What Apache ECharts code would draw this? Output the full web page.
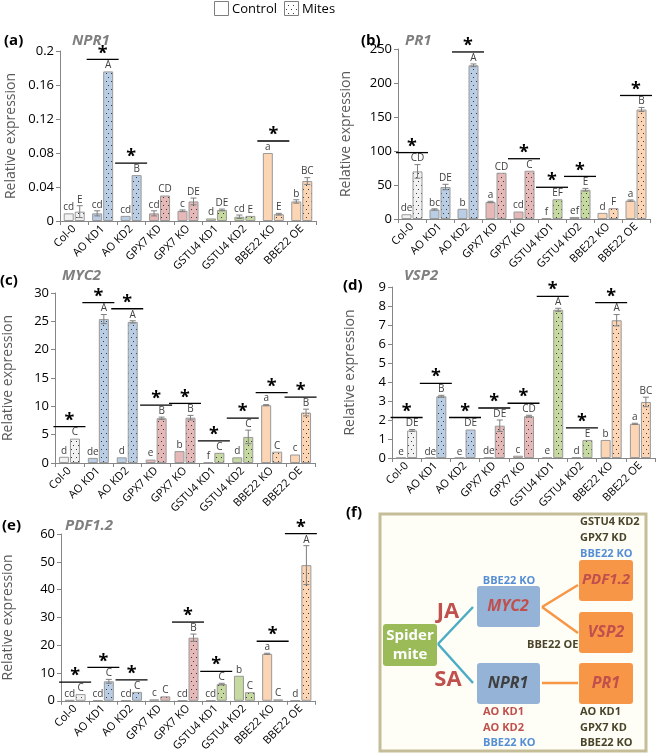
<!DOCTYPE html>
<html><head><meta charset="utf-8">
<script src="https://cdn.jsdelivr.net/npm/echarts@6/dist/echarts.min.js"></script>
<style>html,body{margin:0;padding:0;background:#fff}#c{width:659px;height:754px}</style>
</head><body><div id="c"></div>
<script>
const categories = ['Col-0','AO KD1','AO KD2','GPX7 KD','GPX7 KO','GSTU4 KD1','GSTU4 KD2','BBE22 KO','BBE22 OE'];
const groupColors = ['#f2f2f2','#b9cde5','#b9cde5','#e6b9b8','#e6b9b8','#c6d9a0','#c6d9a0','#fcd5b5','#fcd5b5'];

// (a) NPR1
const npr1Control = [0.009,0.009,0.006,0.009,0.012,0.003,0.005,0.080,0.023];
const npr1ControlErr = [0,0.003,0,0.003,0.001,0,0.002,0,0.002];
const npr1Mites = [0.011,0.176,0.054,0.030,0.023,0.013,0.006,0.008,0.047];
const npr1MitesErr = [0.007,0,0,0,0.004,0.001,0,0.001,0.004];
const npr1ControlLetters = ['cd','cd','cd','cd','c','d','cd','a','b'];
const npr1MitesLetters = ['E','A','B','CD','DE','DE','E','E','BC'];
const npr1Sig = [0,1,1,0,0,0,0,1,0];
const npr1Ticks = {max:0.2, interval:0.04};

// (b) PR1
const pr1Control = [7,14,15,25,11,1,3,9,27];
const pr1ControlErr = [0,1,0,1,0,0,0,0,1];
const pr1Mites = [70,47,226,68,71,29,43,16,161];
const pr1MitesErr = [10,4,2,0,0,0,2,0,3];
const pr1ControlLetters = ['de','bc','b','a','cd','f','ef','d','a'];
const pr1MitesLetters = ['CD','DE','A','CD','C','EF','E','F','B'];
const pr1Sig = [1,0,1,0,1,1,1,0,1];
const pr1Ticks = {max:250, interval:50};

// (c) MYC2
const myc2Control = [1.1,0.9,1.0,0.6,2.1,0.1,1.0,10.2,1.5];
const myc2ControlErr = [0,0,0,0,0,0,0,0.1,0];
const myc2Mites = [4.3,25.4,24.9,7.9,8.0,1.8,4.6,2.0,8.9];
const myc2MitesErr = [0,0.8,0.2,0.2,0.4,0,1.2,0,0.6];
const myc2ControlLetters = ['d','de','d','e','b','f','d','a','c'];
const myc2MitesLetters = ['C','A','A','B','B','C','C','C','B'];
const myc2Sig = [1,1,1,1,1,1,1,1,1];
const myc2Ticks = {max:30, interval:5};

// (d) VSP2
const vsp2Control = [0.01,0.01,0.01,0.03,0.12,0.02,0.05,0.95,1.8];
const vsp2ControlErr = [0,0,0,0,0,0,0,0,0.03];
const vsp2Mites = [1.45,3.25,1.5,1.7,2.2,7.8,0.95,7.25,2.95];
const vsp2MitesErr = [0.05,0.05,0,0.3,0.05,0.08,0,0.3,0.25];
const vsp2ControlLetters = ['e','de','e','de','c','e','d','b','a'];
const vsp2MitesLetters = ['DE','B','DE','DE','CD','A','E','A','BC'];
const vsp2Sig = [1,1,1,1,1,1,1,1,0];
const vsp2Ticks = {max:9, interval:1};

// (e) PDF1.2
const pdfControl = [0.3,0.2,0.2,0.5,0.2,0.2,9.0,16.9,0.1];
const pdfControlErr = [0,0,0,0,0,0,0,0.2,0];
const pdfMites = [2.4,7.0,3.2,1.6,22.7,6.0,3.1,0.5,48.8];
const pdfMitesErr = [0,0.7,0,0,1.3,0.3,0,0,7];
const pdfControlLetters = ['cd','cd','cd','c','cd','cd','b','a','d'];
const pdfMitesLetters = ['C','C','C','C','B','C','C','C','A'];
const pdfSig = [1,1,1,0,1,1,0,1,1];
const pdfTicks = {max:60, interval:10};

function makePattern(bg){
  const c=document.createElement('canvas');c.width=5;c.height=8;
  const x=c.getContext('2d');x.fillStyle=bg;x.fillRect(0,0,5,8);
  x.fillStyle='#3a3a3a';x.fillRect(1,1,1,1);x.fillRect(3,5,1,1);
  return c;
}
const patterns = {};
groupColors.forEach(col=>{ if(!patterns[col]) patterns[col]=makePattern(col); });
patterns['#ffffff']=makePattern('#ffffff');

const panels = [
  {ctrl:npr1Control,ctrlE:npr1ControlErr,mit:npr1Mites,mitE:npr1MitesErr,cl:npr1ControlLetters,ml:npr1MitesLetters,sig:npr1Sig,ticks:npr1Ticks,
   grid:{left:60,top:51,width:256,height:170},nameGap:42},
  {ctrl:pr1Control,ctrlE:pr1ControlErr,mit:pr1Mites,mitE:pr1MitesErr,cl:pr1ControlLetters,ml:pr1MitesLetters,sig:pr1Sig,ticks:pr1Ticks,
   grid:{left:398,top:49,width:252,height:170},nameGap:45},
  {ctrl:myc2Control,ctrlE:myc2ControlErr,mit:myc2Mites,mitE:myc2MitesErr,cl:myc2ControlLetters,ml:myc2MitesLetters,sig:myc2Sig,ticks:myc2Ticks,
   grid:{left:53,top:293,width:262,height:170},nameGap:40},
  {ctrl:vsp2Control,ctrlE:vsp2ControlErr,mit:vsp2Mites,mitE:vsp2MitesErr,cl:vsp2ControlLetters,ml:vsp2MitesLetters,sig:vsp2Sig,ticks:vsp2Ticks,
   grid:{left:392,top:287,width:263,height:171},nameGap:35},
  {ctrl:pdfControl,ctrlE:pdfControlErr,mit:pdfMites,mitE:pdfMitesErr,cl:pdfControlLetters,ml:pdfMitesLetters,sig:pdfSig,ticks:pdfTicks,
   grid:{left:59,top:534,width:256,height:171},nameGap:46}
];

const FONT = 'Open Sans';
const grids=[],xAxes=[],yAxes=[],series=[];
const BW=10, HALF=5.5;
panels.forEach((p,i)=>{
  grids.push(Object.assign({containLabel:false},p.grid));
  xAxes.push({type:'category',gridIndex:i,data:categories,
    axisLine:{lineStyle:{color:'#868686',width:1}},
    axisTick:{show:true,length:4,lineStyle:{color:'#868686'}},
    axisLabel:{interval:0,rotate:45,fontSize:11,color:'#000',fontFamily:FONT,margin:6}});
  yAxes.push({type:'value',gridIndex:i,min:0,max:p.ticks.max,interval:p.ticks.interval,
    name:'Relative expression',nameLocation:'middle',nameGap:p.nameGap,
    nameTextStyle:{fontSize:14,color:'#595959',fontFamily:FONT},
    axisLine:{show:true,lineStyle:{color:'#868686'}},
    axisTick:{show:true,length:4,lineStyle:{color:'#868686'}},
    splitLine:{show:false},
    axisLabel:{fontSize:13,color:'#000',fontFamily:FONT,margin:6}});
  series.push({type:'bar',xAxisIndex:i,yAxisIndex:i,barWidth:BW,barGap:'10%',
    data:p.ctrl.map((v,j)=>({value:v,itemStyle:{color:groupColors[j]}})),
    itemStyle:{borderColor:'#9a9a9a',borderWidth:1}});
  series.push({type:'bar',xAxisIndex:i,yAxisIndex:i,barWidth:BW,barGap:'10%',
    data:p.mit.map((v,j)=>({value:v,itemStyle:{color:{image:patterns[groupColors[j]],repeat:'repeat'}}})),
    itemStyle:{borderColor:'#9a9a9a',borderWidth:1}});
  series.push({type:'custom',xAxisIndex:i,yAxisIndex:i,clip:false,z:5,
    data:categories.map((c,j)=>[j,p.ctrl[j],p.ctrlE[j],p.mit[j],p.mitE[j]]),
    renderItem:function(params,api){
      const j=api.value(0);
      const children=[];
      const bars=[[p.ctrl[j],p.ctrlE[j],p.cl[j],-HALF],[p.mit[j],p.mitE[j],p.ml[j],HALF]];
      bars.forEach(b=>{
        const base=api.coord([j,b[0]]);
        const x=base[0]+b[3];
        let topY=base[1];
        if(b[1]>0){
          const hi=api.coord([j,b[0]+b[1]])[1], lo=api.coord([j,b[0]-b[1]])[1];
          const st={stroke:'#7f7f7f',lineWidth:1};
          children.push({type:'line',shape:{x1:x,y1:hi,x2:x,y2:lo},style:st});
          children.push({type:'line',shape:{x1:x-3,y1:hi,x2:x+3,y2:hi},style:st});
          children.push({type:'line',shape:{x1:x-3,y1:lo,x2:x+3,y2:lo},style:st});
          topY=hi;
        }
        children.push({type:'text',x:x,y:topY-1,style:{text:b[2],fill:'#404040',font:'10px "'+FONT+'"',align:'center',verticalAlign:'bottom'}});
      });
      if(p.sig[j]){
        const top=Math.max(p.ctrl[j]+p.ctrlE[j],p.mit[j]+p.mitE[j]);
        const c=api.coord([j,top]);
        const y=c[1]-12;
        children.push({type:'line',shape:{x1:c[0]-16,y1:y,x2:c[0]+16,y2:y},style:{stroke:'#000',lineWidth:1.3}});
        children.push({type:'text',x:c[0],y:y+3,style:{text:'*',fill:'#000',font:'bold 18px "'+FONT+'"',align:'center',verticalAlign:'bottom'}});
      }
      return {type:'group',children:children};
    }});
});

const titleStyle = (t,x,y,italic,col)=>({type:'text',left:x,top:y,style:{text:t,fill:col,font:(italic?'italic ':'')+'bold 15px "'+FONT+'"'}});
const graphics = [
  // legend
  {type:'rect',shape:{x:214.5,y:1.5,width:14,height:14},style:{fill:'#fff',stroke:'#7f7f7f',lineWidth:1}},
  {type:'text',x:232,y:9,style:{text:'Control',fill:'#000',font:'13px "'+FONT+'"',verticalAlign:'middle'}},
  {type:'rect',shape:{x:284.5,y:1.5,width:14,height:14},style:{fill:{image:patterns['#ffffff'],repeat:'repeat'},stroke:'#7f7f7f',lineWidth:1}},
  {type:'text',x:302,y:9,style:{text:'Mites',fill:'#000',font:'13px "'+FONT+'"',verticalAlign:'middle'}},
  titleStyle('(a)',4,33,false,'#000'), titleStyle('NPR1',72,33,true,'#7f7f7f'),
  titleStyle('(b)',361,33,false,'#000'), titleStyle('PR1',405,33,true,'#7f7f7f'),
  titleStyle('(c)',0,273,false,'#000'), titleStyle('MYC2',62,268,true,'#7f7f7f'),
  titleStyle('(d)',343,278,false,'#000'), titleStyle('VSP2',404,268,true,'#7f7f7f'),
  titleStyle('(e)',2,518,false,'#000'), titleStyle('PDF1.2',65,518,true,'#7f7f7f'),
  titleStyle('(f)',346,505,false,'#000'),
  // panel f
  {type:'rect',shape:{x:380,y:514,width:266,height:237},style:{fill:'#fefef6',stroke:'#c4bd97',lineWidth:3}},
  {type:'line',shape:{x1:438,y1:644,x2:473,y2:607},style:{stroke:'#4bacc6',lineWidth:2.5}},
  {type:'line',shape:{x1:438,y1:644,x2:473,y2:683},style:{stroke:'#4bacc6',lineWidth:2.5}},
  {type:'line',shape:{x1:542,y1:607,x2:578,y2:585},style:{stroke:'#f79646',lineWidth:2.5}},
  {type:'line',shape:{x1:542,y1:607,x2:578,y2:633},style:{stroke:'#f79646',lineWidth:2.5}},
  {type:'line',shape:{x1:542,y1:683,x2:578,y2:683},style:{stroke:'#f79646',lineWidth:2.5}},
  {type:'rect',shape:{x:383,y:624,width:54,height:42,r:3},style:{fill:'#9bbb59'}},
  {type:'text',x:410,y:636,style:{text:'Spider',fill:'#fff',font:'bold 15px "'+FONT+'"',align:'center',verticalAlign:'middle'}},
  {type:'text',x:410,y:655,style:{text:'mite',fill:'#fff',font:'bold 15px "'+FONT+'"',align:'center',verticalAlign:'middle'}},
  {type:'text',x:448,y:612,style:{text:'JA',fill:'#c0504d',font:'bold 22px "'+FONT+'"',align:'center',verticalAlign:'middle'}},
  {type:'text',x:448,y:680,style:{text:'SA',fill:'#c0504d',font:'bold 22px "'+FONT+'"',align:'center',verticalAlign:'middle'}},
  {type:'rect',shape:{x:477,y:586,width:63,height:41,r:3},style:{fill:'#95b3d7'}},
  {type:'text',x:508,y:606,style:{text:'MYC2',fill:'#c0504d',font:'italic bold 16px "'+FONT+'"',align:'center',verticalAlign:'middle'}},
  {type:'rect',shape:{x:477,y:663,width:63,height:41,r:3},style:{fill:'#95b3d7'}},
  {type:'text',x:508,y:683,style:{text:'NPR1',fill:'#3f3f3f',font:'italic bold 16px "'+FONT+'"',align:'center',verticalAlign:'middle'}},
  {type:'rect',shape:{x:579,y:560,width:54,height:41,r:3},style:{fill:'#f79646'}},
  {type:'text',x:606,y:580,style:{text:'PDF1.2',fill:'#c0504d',font:'italic bold 15px "'+FONT+'"',align:'center',verticalAlign:'middle'}},
  {type:'rect',shape:{x:579,y:612,width:54,height:41,r:3},style:{fill:'#f79646'}},
  {type:'text',x:606,y:632,style:{text:'VSP2',fill:'#c0504d',font:'italic bold 16px "'+FONT+'"',align:'center',verticalAlign:'middle'}},
  {type:'rect',shape:{x:579,y:663,width:54,height:41,r:3},style:{fill:'#f79646'}},
  {type:'text',x:606,y:683,style:{text:'PR1',fill:'#c0504d',font:'italic bold 16px "'+FONT+'"',align:'center',verticalAlign:'middle'}}
];
const ftext=(t,x,y,col,align)=>({type:'text',x:x,y:y,style:{text:t,fill:col,font:'bold 11px "'+FONT+'"',align:align||'left',verticalAlign:'middle'}});
const DARK='#4a452a', RED='#c0504d', BLUE='#558ed5';
graphics.push(
  ftext('GSTU4 KD2',580,522,DARK), ftext('GPX7 KD',580,538,DARK), ftext('BBE22 KO',580,554,BLUE),
  ftext('BBE22 KO',509,581,BLUE,'center'),
  ftext('BBE22 OE',527,645,DARK),
  ftext('AO KD1',483,712,RED), ftext('AO KD2',483,728,RED), ftext('BBE22 KO',483,743,BLUE),
  ftext('AO KD1',580,712,DARK), ftext('GPX7 KD',580,728,DARK), ftext('BBE22 KO',580,743,DARK)
);

const chart = echarts.init(document.getElementById('c'),null,{renderer:'canvas'});
chart.setOption({animation:false,grid:grids,xAxis:xAxes,yAxis:yAxes,series:series,graphic:graphics});
</script></body></html>
